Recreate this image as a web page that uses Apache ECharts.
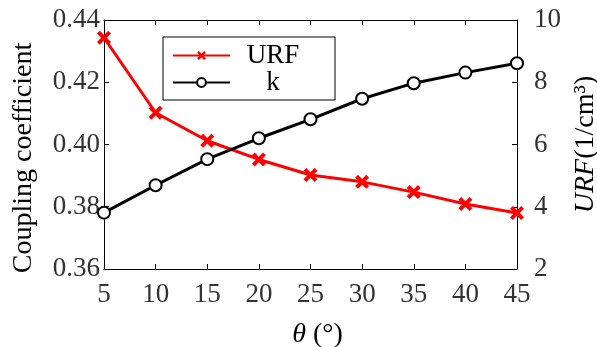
<!DOCTYPE html>
<html><head><meta charset="utf-8">
<script src="https://cdn.jsdelivr.net/npm/echarts@6/dist/echarts.min.js"></script>
<style>html,body{margin:0;padding:0;background:#fff}#c{width:597px;height:347px}</style>
</head><body><div id="c"></div>
<script>
var angles = [5, 10, 15, 20, 25, 30, 35, 40, 45];
var urfValues = [9.43, 7.02, 6.12, 5.52, 5.02, 4.80, 4.47, 4.09, 3.80];
var kValues = [0.3781, 0.3869, 0.3953, 0.4020, 0.4081, 0.4147, 0.4197, 0.4231, 0.4261];
var leftTicks = [0.36, 0.38, 0.40, 0.42, 0.44];
var rightTicks = [2, 4, 6, 8, 10];

var FONT = 'Liberation Serif';
var crossPath = 'path://M2,0 L5,3 L8,0 L10,2 L7,5 L10,8 L8,10 L5,7 L2,10 L0,8 L3,5 L0,2 Z';
var chart = echarts.init(document.getElementById('c'));
var axisLine = {show: true, lineStyle: {color: '#000', width: 1}};
var axisTick = {show: true, inside: true, length: 5, lineStyle: {color: '#000'}};
var tickFont = {fontFamily: FONT, fontSize: 27, color: '#333'};
var nameFont = {fontFamily: FONT, fontSize: 28, color: '#000'};
chart.setOption({
  animation: false,
  textStyle: {fontFamily: FONT},
  grid: {left: 104, right: 80, top: 20, bottom: 78, containLabel: false, outerBoundsMode: 'none'},
  legend: {
    orient: 'vertical', left: 163, top: 37,
    data: ['URF', 'k'],
    itemWidth: 57, itemHeight: 11, itemGap: 0,
    borderColor: '#000', borderWidth: 1, borderRadius: 0,
    padding: [5, 24, 4, 9],
    formatter: function (n) { return '{a|' + n + '}'; },
    textStyle: {fontFamily: FONT, fontSize: 27, color: '#000', lineHeight: 25,
      rich: {a: {fontFamily: FONT, fontSize: 27, color: '#000', width: 76, align: 'center', lineHeight: 25}}}
  },
  xAxis: [{
    type: 'value', min: 5, max: 45, interval: 5,
    name: '{i|θ} (°)', nameLocation: 'middle', nameGap: 52,
    nameTextStyle: Object.assign({padding: [0, 0, 0, 14]}, nameFont, {rich: {i: Object.assign({fontStyle: 'italic'}, nameFont)}}),
    axisLabel: Object.assign({margin: 12}, tickFont),
    axisLine: axisLine, axisTick: axisTick, splitLine: {show: false}
  }, {
    type: 'value', position: 'top', min: 5, max: 45, interval: 5,
    axisLabel: {show: false},
    axisLine: axisLine, axisTick: axisTick, splitLine: {show: false}
  }],
  yAxis: [{
    type: 'value', min: 0.36, max: 0.44, interval: 0.02,
    name: 'Coupling coefficient', nameLocation: 'middle', nameGap: 66, nameRotate: 90,
    nameTextStyle: Object.assign({padding: [0, 27, 0, 0]}, nameFont),
    axisLabel: Object.assign({margin: 4, formatter: function (v) { return v.toFixed(2); }}, tickFont),
    axisLine: axisLine, axisTick: axisTick, splitLine: {show: false}
  }, {
    type: 'value', position: 'right', min: 2, max: 10, interval: 2,
    name: '{i|URF}(1/cm³)', nameLocation: 'middle', nameGap: 50, nameRotate: 90,
    nameTextStyle: Object.assign({}, nameFont, {rich: {i: Object.assign({fontStyle: 'italic'}, nameFont)}}),
    axisLabel: Object.assign({margin: 17}, tickFont),
    axisLine: axisLine, axisTick: axisTick, splitLine: {show: false}
  }],
  series: [{
    name: 'URF', type: 'line', yAxisIndex: 1, xAxisIndex: 0,
    data: angles.map(function (a, i) { return [a, urfValues[i]]; }),
    symbol: crossPath, symbolSize: 14,
    lineStyle: {color: '#ff0000', width: 3},
    itemStyle: {color: '#ff0000'}
  }, {
    name: 'k', type: 'line', yAxisIndex: 0, xAxisIndex: 0,
    data: angles.map(function (a, i) { return [a, kValues[i]]; }),
    symbol: 'emptyCircle', symbolSize: 12,
    lineStyle: {color: '#000', width: 3},
    itemStyle: {color: '#000', borderColor: '#000', borderWidth: 2.5}
  }]
});
</script></body></html>
